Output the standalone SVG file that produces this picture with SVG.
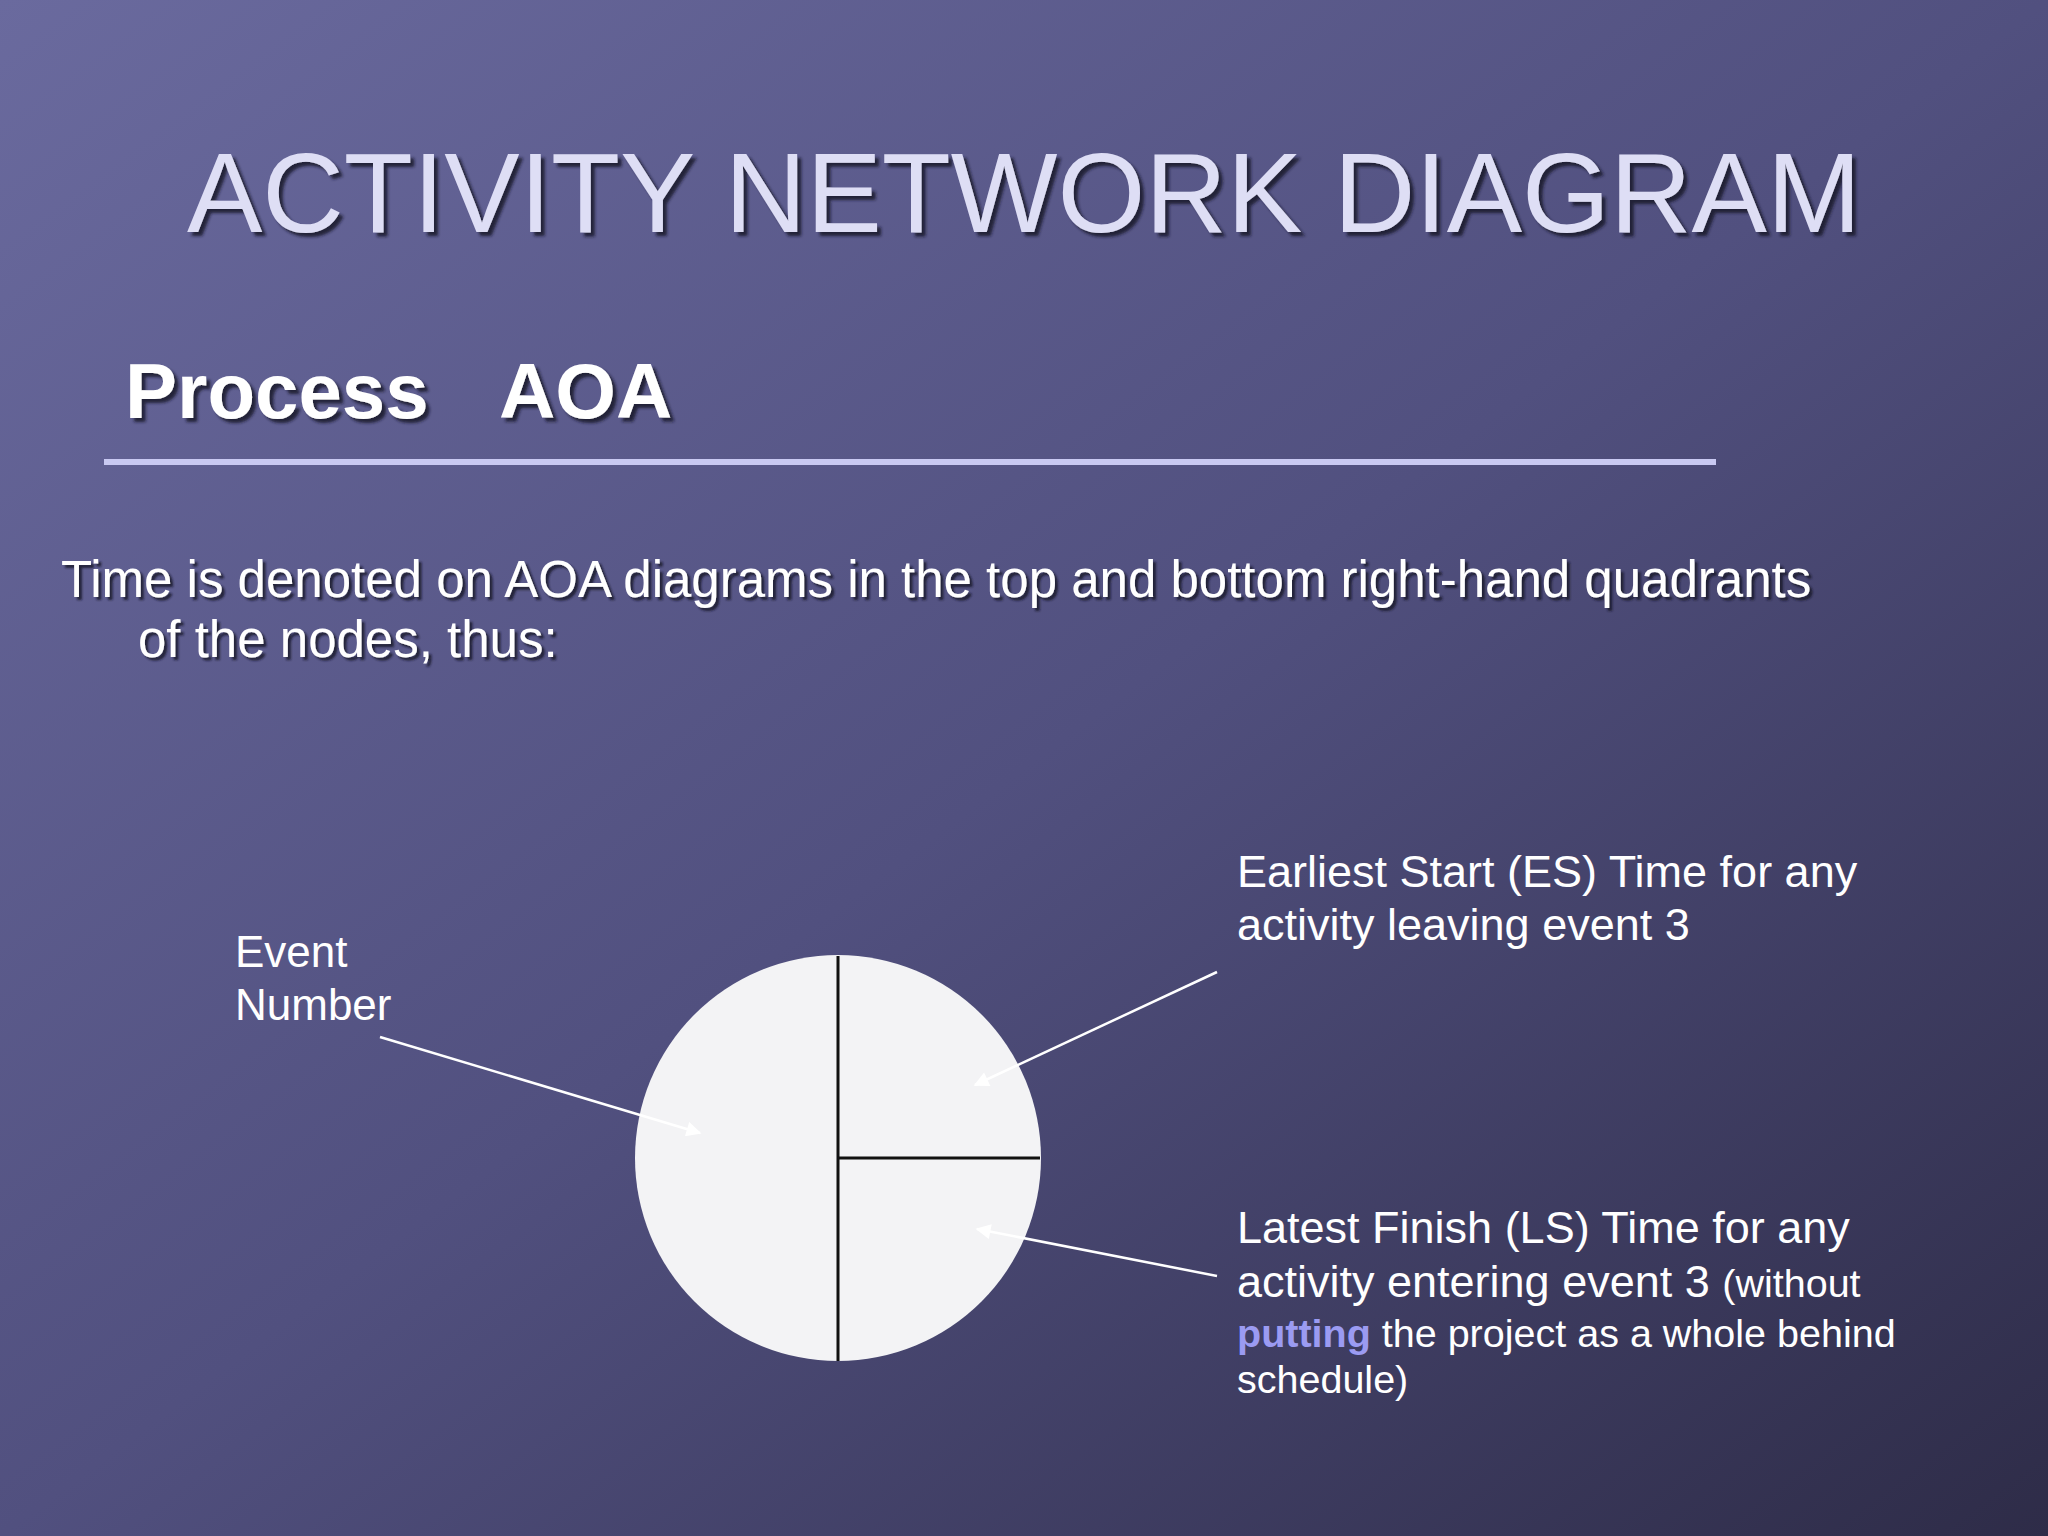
<svg xmlns="http://www.w3.org/2000/svg" width="2048" height="1536" viewBox="0 0 2048 1536">
  <defs>
    <linearGradient id="bg" x1="0" y1="0" x2="1" y2="1">
      <stop offset="0" stop-color="#6A6A9E"/>
      <stop offset="0.5" stop-color="#51507F"/>
      <stop offset="1" stop-color="#2E2C48"/>
    </linearGradient>
    <filter id="shadow" x="-5%" y="-20%" width="110%" height="140%">
      <feDropShadow dx="4" dy="4" stdDeviation="1.5" flood-color="#15142A" flood-opacity="0.85"/>
    </filter>
    <filter id="shadowSm" x="-5%" y="-20%" width="110%" height="140%">
      <feDropShadow dx="3" dy="3" stdDeviation="1" flood-color="#15142A" flood-opacity="0.85"/>
    </filter>
    <marker id="arrow" viewBox="0 0 10 10" refX="9" refY="5" markerWidth="7" markerHeight="6" markerUnits="strokeWidth" orient="auto">
      <path d="M0,0 L10,5 L0,10 z" fill="#FFFFFF"/>
    </marker>
    <style>
      .title { font-family: "Liberation Sans", Arial, sans-serif; font-size: 113px; fill: #DEDEF5; }
      .sub { font-family: "Liberation Sans", Arial, sans-serif; font-size: 78px; font-weight: bold; fill: #FFFFFF; }
      .body { font-family: "Liberation Sans", Arial, sans-serif; font-size: 51px; fill: #FFFFFF; }
      .lbl { font-family: "Liberation Sans", Arial, sans-serif; font-size: 45px; fill: #FFFFFF; }
      .sm { font-size: 39.5px; }
      .hl { font-weight: bold; fill: #9B9BF2; }
      .conn { stroke: #FFFFFF; stroke-width: 2.5; fill: none; marker-end: url(#arrow); }
      .div { stroke: #111111; stroke-width: 3; }
    </style>
  </defs>

  <rect x="0" y="0" width="2048" height="1536" fill="url(#bg)"/>

  <g id="title">
    <text class="title" x="1024" y="232" text-anchor="middle" filter="url(#shadow)">ACTIVITY NETWORK DIAGRAM</text>
  </g>

  <g id="subtitle">
    <text class="sub" x="125" y="418" filter="url(#shadow)">Process<tspan x="499">AOA</tspan></text>
    <rect x="104" y="459" width="1612" height="6" fill="#C9C9F2"/>
  </g>

  <g id="intro">
    <text class="body" x="61" y="597" filter="url(#shadowSm)">Time is denoted on AOA diagrams in the top and bottom right-hand quadrants</text>
    <text class="body" x="138" y="657" filter="url(#shadowSm)">of the nodes, thus:</text>
  </g>

  <g id="node-event">
    <circle cx="838" cy="1158" r="203" fill="#F3F3F5"/>
    <line class="div" x1="838" y1="956" x2="838" y2="1361"/>
    <line class="div" x1="838" y1="1158" x2="1040" y2="1158"/>
  </g>

  <g id="label-event-number">
    <text class="lbl" x="235" y="967" style="font-size:44px">Event</text>
    <text class="lbl" x="235" y="1020" style="font-size:44px">Number</text>
  </g>

  <g id="label-es">
    <text class="lbl" x="1237" y="887">Earliest Start (ES) Time for any</text>
    <text class="lbl" x="1237" y="940">activity leaving event 3</text>
  </g>

  <g id="label-ls">
    <text class="lbl" x="1237" y="1243">Latest Finish (LS) Time for any</text>
    <text class="lbl" x="1237" y="1297">activity entering event 3 <tspan class="sm">(without</tspan></text>
    <text class="lbl sm" x="1237" y="1347"><tspan class="hl">putting</tspan> the project as a whole behind</text>
    <text class="lbl sm" x="1237" y="1393">schedule)</text>
  </g>

  <g id="connectors">
    <line class="conn" x1="380" y1="1037" x2="700" y2="1133"/>
    <line class="conn" x1="1217" y1="972" x2="975" y2="1085"/>
    <line class="conn" x1="1217" y1="1276" x2="977" y2="1229"/>
  </g>
</svg>
